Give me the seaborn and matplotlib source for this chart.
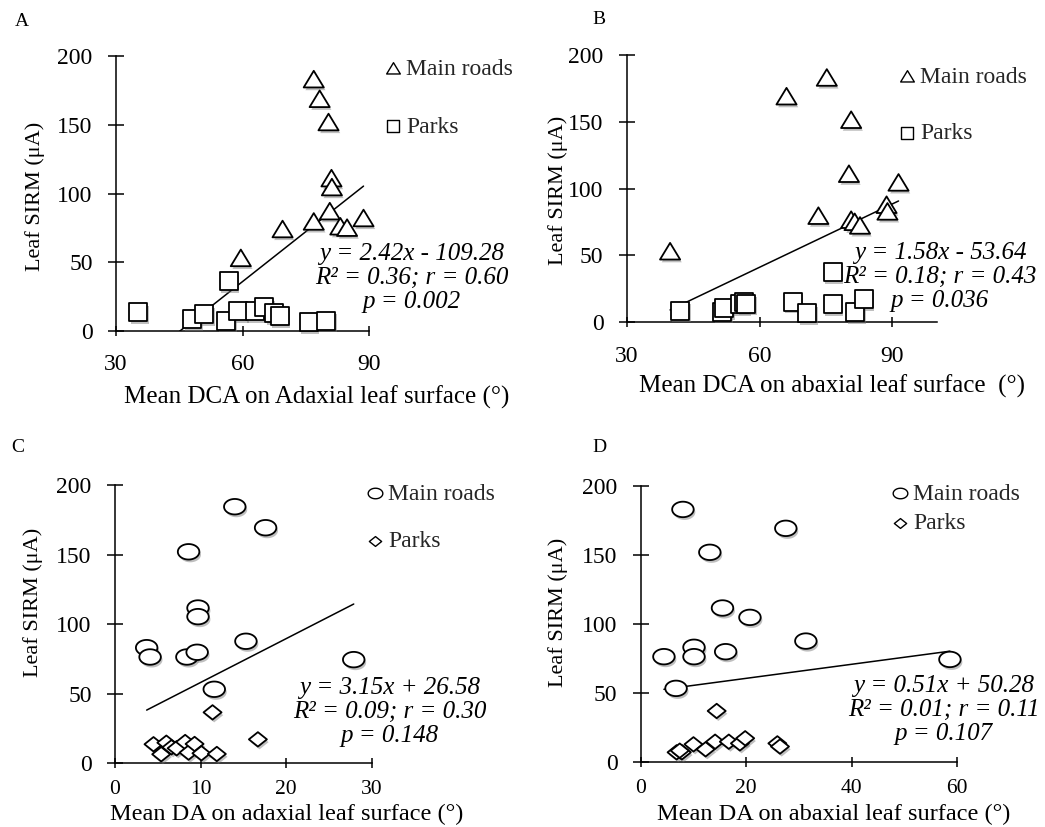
import matplotlib
matplotlib.use("Agg")
import matplotlib.pyplot as plt
import matplotlib.patheffects as pe
from matplotlib.path import Path
import numpy as np
import pandas as pd
import seaborn as sns

# ---------------- data ----------------
# Panel A: Mean DCA on adaxial surface
a_main_x = [76.9, 78.3, 80.4, 81.1, 81.2, 80.7, 76.9, 69.5, 83.2, 84.8, 88.7, 59.6]
a_main_y = [183, 168.7, 151.8, 111, 104.5, 87, 79.5, 74, 76, 75, 82, 53]
a_park_x = [35.3, 48.0, 50.9, 56.1, 56.7, 58.9, 62.9, 65.2, 67.5, 68.8, 75.7, 79.9]
a_park_y = [13.6, 8.5, 12.4, 7.5, 36.4, 14.5, 14.5, 17.5, 12.8, 10.9, 6.3, 7.5]
# Panel B: Mean DCA on abaxial surface
b_main_x = [39.8, 66.1, 75.2, 80.7, 80.2, 91.4, 73.3, 80.7, 81.5, 82.7, 88.7, 88.9]
b_main_y = [53, 169, 183, 151.4, 111, 104.5, 79.6, 76.6, 75, 72.3, 87.8, 82.8]
b_park_x = [42.0, 51.5, 52.0, 55.6, 56.5, 57.0, 67.5, 70.8, 76.5, 76.5, 81.6, 83.5]
b_park_y = [8.7, 8, 10.5, 13.7, 15, 14, 15.5, 6.7, 37.4, 13.7, 7.5, 17.5]
# Panel C: Mean DA on adaxial surface
c_main_x = [3.7, 4.1, 8.6, 9.7, 9.7, 8.4, 9.6, 14.0, 17.6, 15.3, 11.6, 27.9]
c_main_y = [83.1, 76.4, 152, 111.6, 105.4, 76.4, 79.8, 184.4, 169.3, 87.7, 53.2, 74.5]
c_park_x = [4.5, 5.4, 6.0, 6.6, 7.2, 8.2, 8.6, 9.3, 10.1, 11.4, 11.9, 16.7]
c_park_y = [13.7, 6.5, 14.8, 11.5, 10.8, 15.3, 7.7, 13.9, 7.2, 36.6, 6.7, 17.2]
# Panel D: Mean DA on abaxial surface
d_main_x = [4.4, 6.7, 8.0, 10.1, 10.1, 13.1, 15.5, 16.1, 20.7, 27.5, 31.3, 58.6]
d_main_y = [76.2, 53.2, 183, 83, 76.2, 151.9, 111.5, 79.8, 104.7, 169.3, 87.5, 74.2]
d_park_x = [6.8, 7.8, 7.4, 10.0, 12.3, 14.4, 14.1, 16.7, 18.8, 19.8, 25.9, 26.4]
d_park_y = [6.8, 6.8, 8, 12.6, 9, 36.8, 14.5, 14.5, 13.3, 17, 13.3, 11]

slopes = [2.42, 1.58, 3.15, 0.51]
intercepts = [-109.28, -53.64, 26.58, 50.28]
equations = [
    "y = 2.42x - 109.28\nR² = 0.36; r = 0.60\np = 0.002",
    "y = 1.58x - 53.64\nR² = 0.18; r = 0.43\np = 0.036",
    "y = 3.15x + 26.58\nR² = 0.09; r = 0.30\np = 0.148",
    "y = 0.51x + 50.28\nR² = 0.01; r = 0.11\np = 0.107",
]
panel_letters = ["A", "B", "C", "D"]
xlabels = [
    "Mean DCA on Adaxial leaf surface (°)",
    "Mean DCA on abaxial leaf surface  (°)",
    "Mean DA on adaxial leaf surface (°)",
    "Mean DA on abaxial leaf surface (°)",
]
ylabel = "Leaf SIRM (μA)"
group_labels = ["Main roads", "Parks"]
xlims = [(30, 90), (30, 100), (0, 30), (0, 60)]
xticks = [[30, 60, 90], [30, 60, 90], [0, 10, 20, 30], [0, 20, 40, 60]]
yticks = [0, 50, 100, 150, 200]

# ---------------- style ----------------
sns.set_theme(style="white")
plt.rcParams["font.family"] = ["Liberation Serif", "DejaVu Serif"]

W, H = 1045, 827
fig = plt.figure(figsize=(W / 100, H / 100), dpi=100)

def fx(px):
    return px / W

def fy(py):
    return 1 - py / H

# custom marker shapes
tri = Path([(-1, -0.8), (1, -0.8), (0, 0.85), (-1, -0.8)], closed=True)
theta = np.linspace(0, 2 * np.pi, 60)
ell = Path(np.column_stack([np.cos(theta), 0.72 * np.sin(theta)]), closed=True)
dia = Path([(-1, 0), (0, 0.8), (1, 0), (0, -0.8), (-1, 0)], closed=True)
sq = "s"

panels = [
    dict(main=(a_main_x, a_main_y), park=(a_park_x, a_park_y), mk=(tri, sq), ms=(14.5, 13.0),
         box=(116, 56, 369, 331), xl=(317, 397), yl=(35, 196), let=(22, 22),
         eq=(412, 278), leg=(386, 58), lsp=1.55, xts=17, xpad=13, xls=18),
    dict(main=(b_main_x, b_main_y), park=(b_park_x, b_park_y), mk=(tri, sq), ms=(14.5, 13.0),
         box=(626.7, 55, 936.6, 322.3), xl=(832, 386), yl=(558, 190), let=(599, 20),
         eq=(940, 277), leg=(900, 66), lsp=1.5, xts=17, xpad=13, xls=18),
    dict(main=(c_main_x, c_main_y), park=(c_park_x, c_park_y), mk=(ell, dia), ms=(15.5, 13.0),
         box=(115, 485, 371.7, 763.3), xl=(287, 814), yl=(33, 602), let=(18, 448),
         eq=(390, 712), leg=(368, 483), lsp=1.1, xts=15.5, xpad=8.5, xls=17.5),
    dict(main=(d_main_x, d_main_y), park=(d_park_x, d_park_y), mk=(ell, dia), ms=(15.5, 13.0),
         box=(640.7, 486, 957.3, 761.7), xl=(834, 814), yl=(558, 612), let=(599, 448),
         eq=(944, 710), leg=(893, 483), lsp=0.35, xts=15.5, xpad=8.5, xls=17.5),
]

shadow = [pe.SimplePatchShadow(offset=(1.2, -2.0), shadow_rgbFace="0.45", alpha=0.45), pe.Normal()]

for i, p in enumerate(panels):
    l, t, r, b = p["box"]
    ax = fig.add_axes([fx(l), fy(b), fx(r) - fx(l), fy(t) - fy(b)])
    ax.set_facecolor("none")
    ax.patch.set_alpha(0)

    # regression line over the data range
    allx = np.array(p["main"][0] + p["park"][0])
    lx = np.array([allx.min(), allx.max()])
    ly = slopes[i] * lx + intercepts[i]
    sns.lineplot(x=lx, y=ly, ax=ax, color="black", linewidth=1.1, zorder=2)

    for (gx, gy), mk, ms, lab in zip([p["main"], p["park"]], p["mk"], p["ms"], group_labels):
        df = pd.DataFrame({"x": gx, "y": gy})
        sns.scatterplot(data=df, x="x", y="y", ax=ax, marker=mk, s=ms ** 2,
                        facecolor="white", edgecolor="black", linewidth=1.3,
                        label=lab, zorder=3, clip_on=False, path_effects=shadow)

    ax.set_xlim(*xlims[i])
    ax.set_ylim(0, 200)
    ax.set_xticks(xticks[i])
    ax.set_yticks(yticks)
    for s in ["top", "right"]:
        ax.spines[s].set_visible(False)
    for s in ["left", "bottom"]:
        ax.spines[s].set_color("black")
        ax.spines[s].set_linewidth(1.1)
    ax.tick_params(axis="y", direction="inout", length=11.5, width=1.1, pad=11, labelsize=17,
                   colors="black", left=True)
    ax.tick_params(axis="x", direction="inout", length=7.5, width=1.1, pad=p["xpad"],
                   labelsize=p["xts"], colors="black", bottom=True)

    ax.set_xlabel(xlabels[i], fontsize=p["xls"], color="black")
    ax.set_ylabel(ylabel, fontsize=16, color="black")
    ax.xaxis.label.set_va("center")
    ax.yaxis.label.set_va("center")
    ax.xaxis.set_label_coords(fx(p["xl"][0]), fy(p["xl"][1]), transform=fig.transFigure)
    ax.yaxis.set_label_coords(fx(p["yl"][0]), fy(p["yl"][1]), transform=fig.transFigure)

    leg = ax.legend(loc="upper left", bbox_to_anchor=(fx(p["leg"][0]), fy(p["leg"][1])),
                    bbox_transform=fig.transFigure, frameon=False, fontsize=17,
                    handlelength=0.6, handletextpad=0.25, borderpad=0, borderaxespad=0,
                    labelspacing=p["lsp"], markerscale=0.68)
    for h in leg.legend_handles:
        h.set_path_effects([])
        h.set_linewidth(1.0)

    fig.text(fx(p["eq"][0]), fy(p["eq"][1]), equations[i], ha="center", va="center",
             fontsize=18, style="italic", color="black", linespacing=1.12)
    fig.text(fx(p["let"][0]), fy(p["let"][1]), panel_letters[i], ha="center", va="center",
             fontsize=14, color="black")

fig.savefig("out.png", dpi=100, facecolor="white")
